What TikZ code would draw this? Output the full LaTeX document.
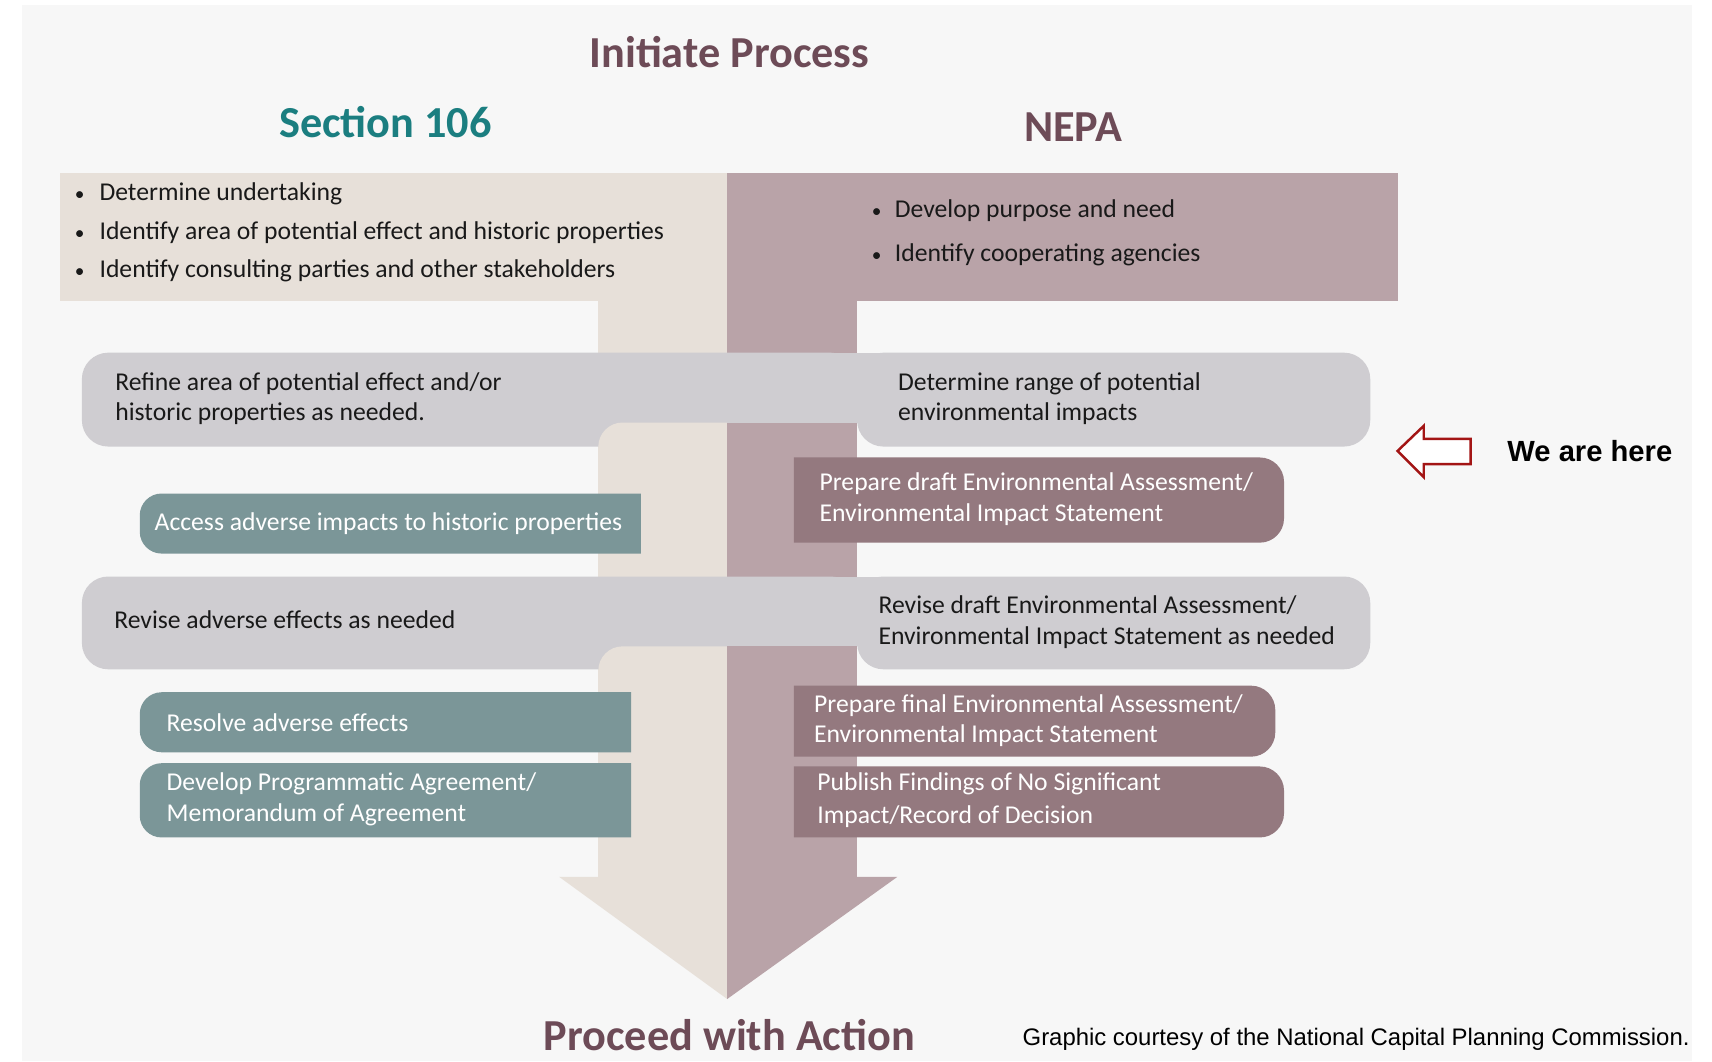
\documentclass[tikz,border=0pt]{standalone}
\usepackage{fontspec}
\setmainfont{Carlito}
\newfontfamily\arialfont{Liberation Sans}
\definecolor{bgcol}{HTML}{F7F7F7}
\definecolor{sandcol}{HTML}{E7E0D9}
\definecolor{plumcol}{HTML}{B9A3A8}
\definecolor{bandcol}{HTML}{CFCDD1}
\definecolor{tealbox}{HTML}{7B9698}
\definecolor{plumbox}{HTML}{94797F}
\definecolor{headcol}{HTML}{6D4B57}
\definecolor{tealhead}{HTML}{1B7E80}
\definecolor{herered}{HTML}{A31515}

% step boxes: rounded on one side only (left, top, right, bottom, colour)
\newcommand{\leftround}[5]{\fill[#5] (#3,#2) -- ({#1+20},#2) .. controls ({#1+9},#2) and (#1,{#2+9}) .. (#1,{#2+20})
    -- (#1,{#4-20}) .. controls (#1,{#4-9}) and ({#1+9},#4) .. ({#1+20},#4) -- (#3,#4) -- cycle;}
\newcommand{\rightround}[5]{\fill[#5] (#1,#2) -- ({#3-22},#2) .. controls ({#3-10},#2) and (#3,{#2+10}) .. (#3,{#2+22})
    -- (#3,{#4-22}) .. controls (#3,{#4-10}) and ({#3-10},#4) .. ({#3-22},#4) -- (#1,#4) -- cycle;}

\begin{document}
\begin{tikzpicture}[x=0.10918mm, y=-0.10918mm,
    every node/.style={inner sep=0pt},
    heading/.style={font=\fontsize{12.6}{15}\selectfont\bfseries, text=headcol},
    txt/.style={anchor=west, align=left, font=\fontsize{7.3}{8.7}\selectfont, text=black!90},
    wtxt/.style={txt, text=white}]
    \useasboundingbox (0,0) rectangle (1568,972);

    % Background
    \fill[white] (0,0) rectangle (1568,972);
    \fill[bgcol] (20,5) rectangle (1550,972);

    % Top boxes and stems
    \fill[sandcol] (55,158) rectangle (666,276);
    \fill[plumcol] (666,158) rectangle (1280,276);
    \fill[sandcol] (548,276) rectangle (666,803);
    \fill[plumcol] (666,276) rectangle (785,803);
    \fill[sandcol] (512,803) -- (666,803) -- (666,915) -- cycle;
    \fill[plumcol] (666,803) -- (822,803) -- (666,915) -- cycle;

    % First band
    \fill[bandcol, rounded corners=7.5pt] (75,323) rectangle (785,409);
    \fill[bandcol] (700,323) rectangle (830,387);
    \fill[sandcol] (666,387) -- (570,387) .. controls (558,387) and (548,397) .. (548,409) -- (548,430) -- (666,430) -- cycle;
    \fill[plumcol] (666,387) rectangle (785,430);
    \fill[bandcol, rounded corners=7.5pt] (785,323) rectangle (1255,409);

    % Second band
    \fill[bandcol, rounded corners=7.5pt] (75,528) rectangle (785,613);
    \fill[bandcol] (700,528) rectangle (830,592);
    \fill[sandcol] (666,592) -- (570,592) .. controls (558,592) and (548,602) .. (548,614) -- (548,640) -- (666,640) -- cycle;
    \fill[plumcol] (666,592) rectangle (785,640);
    \fill[bandcol, rounded corners=7.5pt] (785,528) rectangle (1255,613);

    % Section 106 steps
    \leftround{128}{452}{587}{507}{tealbox}
    \leftround{128}{634}{578}{689}{tealbox}
    \leftround{128}{699}{578}{767}{tealbox}

    % NEPA steps
    \rightround{727}{419}{1176}{497}{plumbox}
    \rightround{727}{628}{1168}{693}{plumbox}
    \rightround{727}{702}{1176}{767}{plumbox}

    % Headings
    \node[heading] (init) at (668,48) {Initiate Process};
    \node[heading, text=tealhead] (sec) at (353,112) {Section 106};
    \node[heading] (nepa) at (983,116) {NEPA};
    \node[heading] (proc) at (668,948) {Proceed with Action};

    % Bullet lists
    \node[txt, font=\fontsize{7.3}{10.9}\selectfont] (seclist) at (68,213)
        {\makebox[7pt][l]{\fontsize{5.5}{6}\selectfont\textbullet}Determine undertaking\\
         \makebox[7pt][l]{\fontsize{5.5}{6}\selectfont\textbullet}Identify area of potential effect and historic properties\\
         \makebox[7pt][l]{\fontsize{5.5}{6}\selectfont\textbullet}Identify consulting parties and other stakeholders};
    \node[txt, font=\fontsize{7.3}{12.4}\selectfont] (nepalist) at (798,213)
        {\makebox[6.5pt][l]{\fontsize{5.5}{6}\selectfont\textbullet}Develop purpose and need\\
         \makebox[6.5pt][l]{\fontsize{5.5}{6}\selectfont\textbullet}Identify cooperating agencies};

    % Band texts
    \node[txt] (refine) at (105,365) {Refine area of potential effect and/or\\historic properties as needed.};
    \node[txt] (range) at (822,365) {Determine range of potential\\environmental impacts};
    \node[txt] (revadv) at (104,568) {Revise adverse effects as needed};
    \node[txt] (revdraft) at (804,570) {Revise draft Environmental Assessment/\\Environmental Impact Statement as needed};

    % Step texts
    \node[wtxt] (access) at (141,480) {Access adverse impacts to historic properties};
    \node[wtxt] (resolve) at (152,662) {Resolve adverse effects};
    \node[wtxt] (agree) at (152,732) {Develop Programmatic Agreement/\\Memorandum of Agreement};
    \node[wtxt] (draft) at (750,457) {Prepare draft Environmental Assessment/\\Environmental Impact Statement};
    \node[wtxt] (final) at (745,660) {Prepare final Environmental Assessment/\\Environmental Impact Statement};
    \node[wtxt, font=\fontsize{7.3}{9.3}\selectfont] (publish) at (748,733) {Publish Findings of No Significant\\Impact/Record of Decision};

    % We are here
    \draw[herered, fill=white, line width=0.7pt, line join=miter]
        (1280,413) -- (1304,390) -- (1304,402) -- (1347,402) -- (1347,425) -- (1304,425) -- (1304,437) -- cycle;
    \node[anchor=west, font=\arialfont\fontsize{8.3}{10}\selectfont\bfseries] (here) at (1380,413) {We are here};

    % Credit
    \node[anchor=west, font=\arialfont\fontsize{6.8}{8}\selectfont] (credit) at (936,952)
        {Graphic courtesy of the National Capital Planning Commission.};
\end{tikzpicture}
\end{document}
